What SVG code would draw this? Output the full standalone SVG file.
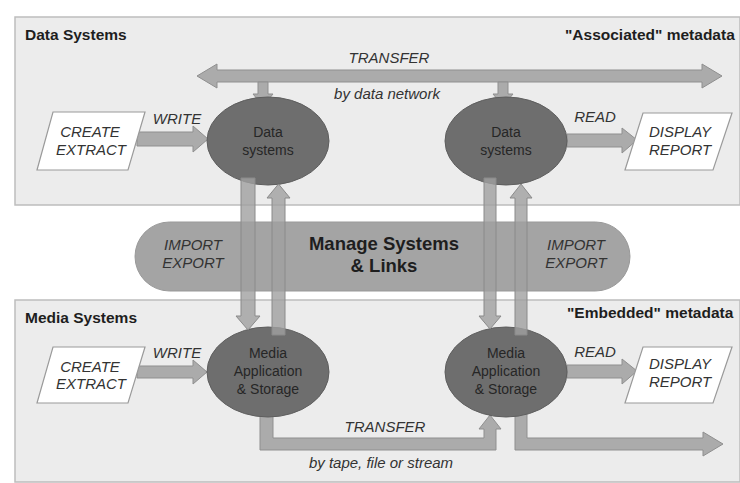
<svg xmlns="http://www.w3.org/2000/svg" width="740" height="483" viewBox="0 0 740 483">
<style>
.panel{fill:#ececec;stroke:#bdbdbd;stroke-width:1.5}
.title{font-family:"Liberation Sans",Arial,sans-serif;font-weight:bold;font-size:15.5px;fill:#1e1e1e}
.lab{font-family:"Liberation Sans",Arial,sans-serif;font-style:italic;font-size:15px;fill:#333;text-anchor:middle}
.node{fill:#6e6e6e;stroke:#5e5e5e;stroke-width:1}
.ntxt{font-family:"Liberation Sans",Arial,sans-serif;font-size:14px;fill:#262626;text-anchor:middle}
.para{fill:#ffffff;stroke:#9a9a9a;stroke-width:1.2}
.arr{fill:#ababab;stroke:#8f8f8f;stroke-width:1}
.varr{fill:#a0a0a0;fill-opacity:0.8;stroke:#8a8a8a;stroke-width:1}
.pill{fill:#a4a4a4;stroke:#999;stroke-width:1}
.big{font-family:"Liberation Sans",Arial,sans-serif;font-weight:bold;font-size:18.5px;fill:#1e1e1e;text-anchor:middle}
</style>
<rect width="740" height="483" fill="#ffffff"/>
<g id="panel-data">
<rect class="panel" x="15" y="17" width="725" height="188"/>
<text class="title" x="25" y="40">Data Systems</text>
<text class="title" x="565" y="40">"Associated" metadata</text>
</g>
<g id="panel-media">
<rect class="panel" x="15" y="300" width="725" height="182"/>
<text class="title" x="25" y="323">Media Systems</text>
<text class="title" x="567" y="318">"Embedded" metadata</text>
</g>
<g id="manage">
<rect class="pill" x="135" y="222" width="495" height="69" rx="34.5"/>
<text class="big" x="384" y="250">Manage Systems</text>
<text class="big" x="384" y="272">&amp; Links</text>
<text class="lab" x="193" y="250">IMPORT</text>
<text class="lab" x="193" y="268">EXPORT</text>
<text class="lab" x="576" y="250">IMPORT</text>
<text class="lab" x="576" y="268">EXPORT</text>
</g>
<g id="connectors">
<polygon class="arr" points="197,76 217,64 217,70 702,70 702,64 722,76 702,88 702,82 217,82 217,88"/>
<polygon class="arr" points="258,82 268,82 268,94 273,94 263,106 253,94 258,94"/>
<polygon class="arr" points="498,82 508,82 508,94 513,94 503,106 493,94 498,94"/>
<polygon class="arr" points="137,132 193,132 193,126 208,139 193,152 193,146 137,146"/>
<polygon class="arr" points="567,134 622,134 622,128 637,140 622,153 622,147 567,147"/>
<polygon class="arr" points="137,366 193,366 193,360 207,372 193,384 193,378 137,378"/>
<polygon class="arr" points="567,365 622,365 622,359 637,371 622,384 622,378 567,378"/>
<polygon class="arr" points="260,405 273,405 273,438 484,438 484,429 479,429 490,415 501,429 496,429 496,450 260,450"/>
<polygon class="arr" points="515,405 527,405 527,438 703,438 703,432 723,444 703,456 703,450 515,450"/>
</g>
<g id="node-data-left">
<ellipse class="node" cx="268" cy="141" rx="61" ry="44"/>
<text class="ntxt" x="268" y="137">Data</text>
<text class="ntxt" x="268" y="155">systems</text>
</g>
<g id="node-data-right">
<ellipse class="node" cx="506" cy="141" rx="61" ry="44"/>
<text class="ntxt" x="506" y="137">Data</text>
<text class="ntxt" x="506" y="155">systems</text>
</g>
<g id="node-media-left">
<ellipse class="node" cx="268" cy="372" rx="61" ry="45"/>
<text class="ntxt" x="268" y="358">Media</text>
<text class="ntxt" x="268" y="376">Application</text>
<text class="ntxt" x="268" y="394">&amp; Storage</text>
</g>
<g id="node-media-right">
<ellipse class="node" cx="506" cy="372" rx="61" ry="45"/>
<text class="ntxt" x="506" y="358">Media</text>
<text class="ntxt" x="506" y="376">Application</text>
<text class="ntxt" x="506" y="394">&amp; Storage</text>
</g>
<g id="vertical-connectors">
<polygon class="varr" points="241,178 255,178 255,316 260,316 248,330 236,316 241,316"/>
<polygon class="varr" points="272,335 285,335 285,198 290,198 278.5,184 267,198 272,198"/>
<polygon class="varr" points="484,178 496,178 496,316 501,316 490,329 479,316 484,316"/>
<polygon class="varr" points="515,335 527,335 527,198 532,198 521,184 510,198 515,198"/>
</g>
<g id="node-create-top">
<polygon class="para" points="53,112 145,112 128,170 37,170"/>
<text class="lab" x="90" y="137">CREATE</text>
<text class="lab" x="91" y="155">EXTRACT</text>
</g>
<g id="node-display-top">
<polygon class="para" points="643,113 732,113 713,170 625,170"/>
<text class="lab" x="680" y="137">DISPLAY</text>
<text class="lab" x="680" y="155">REPORT</text>
</g>
<g id="node-create-bottom">
<polygon class="para" points="53,347 145,347 128,403 37,403"/>
<text class="lab" x="90" y="372">CREATE</text>
<text class="lab" x="91" y="389">EXTRACT</text>
</g>
<g id="node-display-bottom">
<polygon class="para" points="643,347 732,347 713,403 625,403"/>
<text class="lab" x="680" y="369">DISPLAY</text>
<text class="lab" x="680" y="387">REPORT</text>
</g>
<g id="labels">
<text class="lab" x="389" y="63">TRANSFER</text>
<text class="lab" x="387" y="99">by data network</text>
<text class="lab" x="177" y="124">WRITE</text>
<text class="lab" x="595" y="122">READ</text>
<text class="lab" x="177" y="358">WRITE</text>
<text class="lab" x="595" y="357">READ</text>
<text class="lab" x="385" y="432">TRANSFER</text>
<text class="lab" x="381" y="468">by tape, file or stream</text>
</g>
</svg>
